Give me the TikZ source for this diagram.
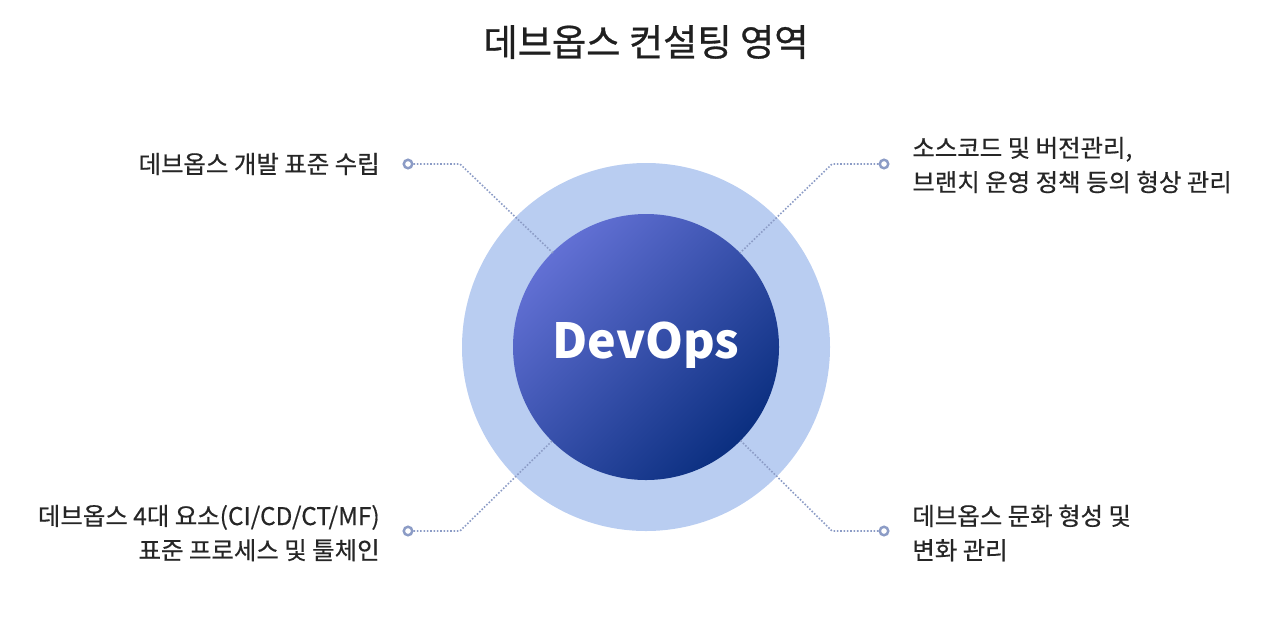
\documentclass[tikz,border=0pt]{standalone}
\usepackage{fontspec}
\setmainfont{Noto Sans CJK KR}
\begin{document}
\begin{tikzpicture}[x=0.02cm,y=-0.02cm,
  lbl/.style={font=\fontsize{13.9}{19.5}\selectfont\addfontfeature{FakeBold=0.5}, text=black!85, inner sep=0},
  dotline/.style={draw=conn, densely dotted, line width=0.9pt},
  endring/.style={circle, draw=conn, line width=1.4pt, fill=white, minimum size=0.17cm, inner sep=0}]
\definecolor{conn}{HTML}{8C9CC6}
\definecolor{ringc}{HTML}{B9CDF1}
\definecolor{lightb}{HTML}{6270D4}
\definecolor{darkb}{HTML}{0B2F80}
\useasboundingbox (0,0) rectangle (1280,623);
\node[font=\fontsize{21.2}{25}\selectfont\addfontfeature{FakeBold=0.8}, text=black!88] (title) at (646,42) {데브옵스 컨설팅 영역};
\fill[ringc] (646,347) circle (184);
\shade[left color=darkb, right color=lightb, shading angle=-135] (646,347) circle (133);
\node[circle, minimum size=5.3cm] (core) at (646,347) {};
\node[font=\fontsize{27.5}{32}\selectfont\bfseries, text=white] (dev) at (646,345) {DevOps};
% endpoints
\node[endring] (e1) at (408,164) {};
\node[endring] (e2) at (884,164) {};
\node[endring] (e3) at (408,531) {};
\node[endring] (e4) at (884,531) {};
\coordinate (k1) at (460,164); \coordinate (t1) at (553,253);
\coordinate (k2) at (832,164); \coordinate (t2) at (740,253);
\coordinate (k3) at (460,531); \coordinate (t3) at (553,440);
\coordinate (k4) at (832,531); \coordinate (t4) at (740,440);
\draw[dotline] (e1) -- (k1) -- (t1);
\draw[dotline] (e2) -- (k2) -- (t2);
\draw[dotline] (e3) -- (k3) -- (t3);
\draw[dotline] (e4) -- (k4) -- (t4);
% labels
\node[lbl, anchor=east] (l1) at (380,164) {데브옵스 개발 표준 수립};
\node[lbl, anchor=east, align=right] (l3) at (380,533) {데브옵스 4대 요소(CI/CD/CT/MF)\\표준 프로세스 및 툴체인};
\node[lbl, anchor=west, align=left] (l2) at (912,165) {소스코드 및 버전관리,\\브랜치 운영 정책 등의 형상 관리};
\node[lbl, anchor=west, align=left] (l4) at (912,533) {데브옵스 문화 형성 및\\변화 관리};
\end{tikzpicture}
\end{document}
